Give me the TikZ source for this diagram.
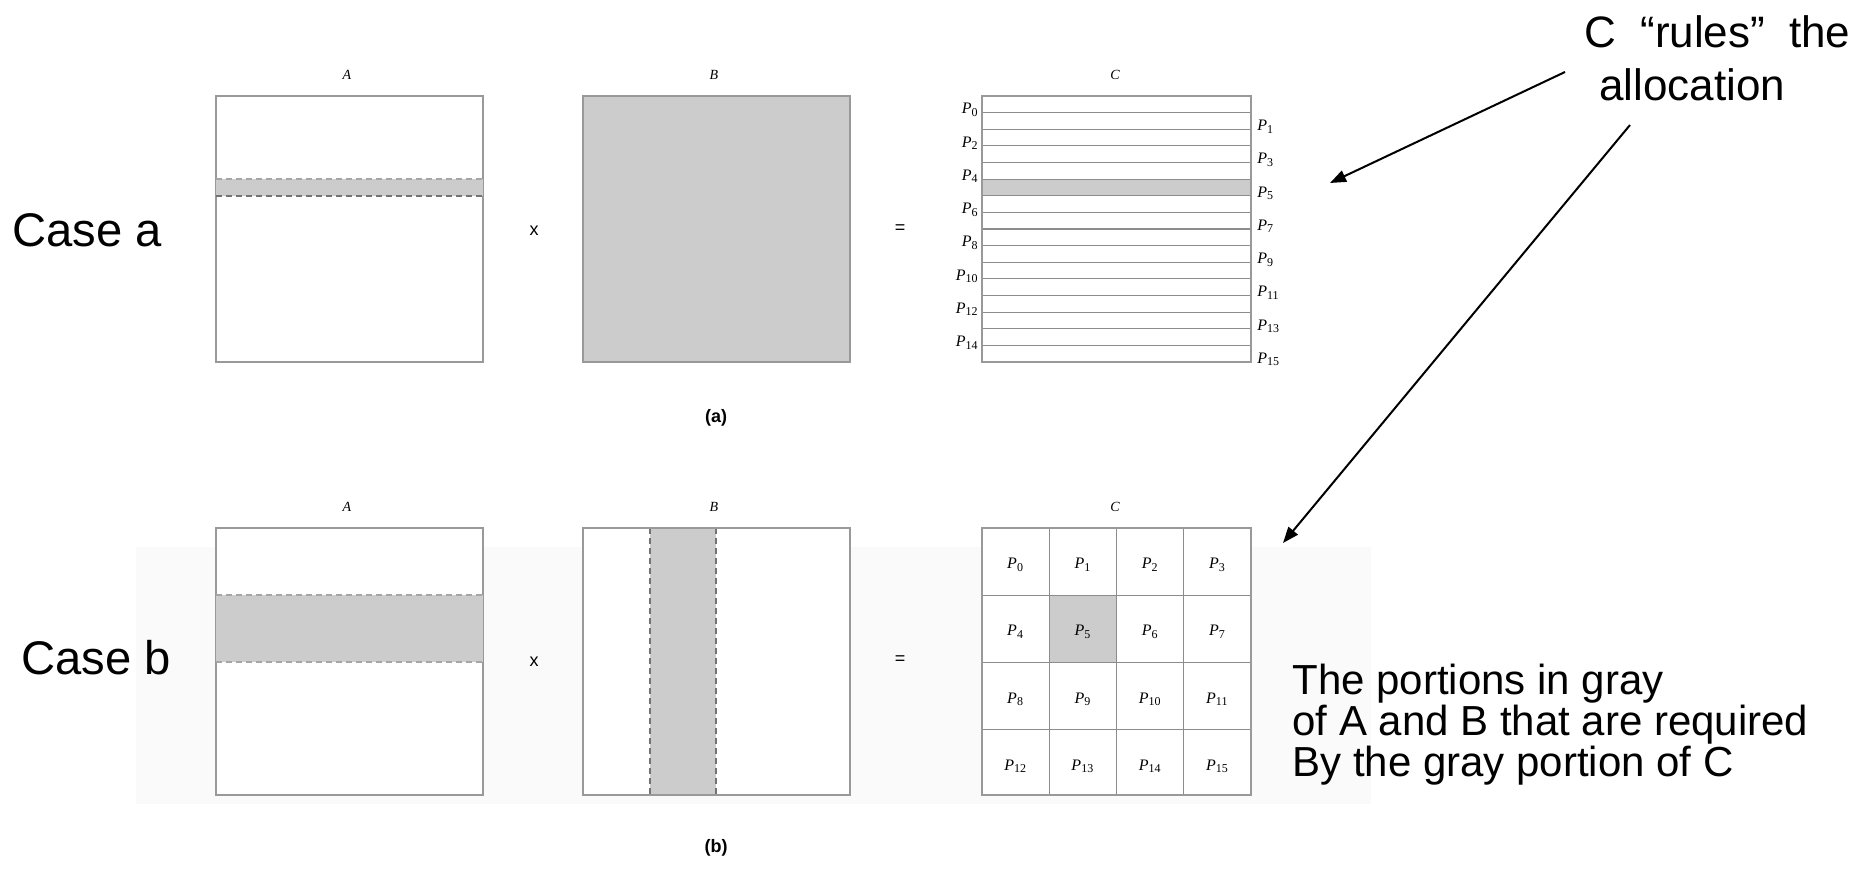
\documentclass[tikz,border=0pt]{standalone}
\usepackage{fontspec}
\usetikzlibrary{arrows.meta}
\newfontfamily\slidefont{Liberation Sans}
\newfontfamily\tms{Liberation Serif}
% processor label: italic P with upright subscript
\newcommand{\Pk}[1]{{\itshape P}\textsubscript{#1}}

\begin{document}
\begin{tikzpicture}[x=0.5pt,y=-0.5pt,
  frame/.style={draw=black!40, line width=0.75pt},
  shaded/.style={fill=black!20},
  cut/.style={draw=black!55, dash pattern=on 3pt off 2pt, line width=0.6pt},
  rowline/.style={draw=black!45, line width=0.6pt},
  plab/.style={font=\tms\fontsize{8}{9}\selectfont, inner sep=0pt},
  mlab/.style={font=\tms\fontsize{7}{8}\selectfont\itshape, inner sep=0pt},
  slide/.style={font=\slidefont\fontsize{22}{20.5}\selectfont, inner sep=0pt},
  op/.style={font=\slidefont\fontsize{9}{10}\selectfont, inner sep=0pt},
  caption/.style={font=\slidefont\bfseries\fontsize{9}{10}\selectfont, inner sep=0pt},
  pointer/.style={draw=black, line width=1pt, -{Triangle[length=8pt,width=6pt]}}
]
\useasboundingbox (0,0) rectangle (1853,870);

% faint backdrop behind the second case
\fill[black!2] (136,547) rectangle (1371,804);

% ---------------- case a ----------------
\node[slide, font=\slidefont\fontsize{23.6}{24}\selectfont, anchor=west] (casea) at (12,230) {Case a};

% A: one block row
\draw[frame, fill=white] (216,96) rectangle (483,362);
\fill[shaded] (216,179) rectangle (483,196);
\draw[cut, draw=black!35] (216,179) -- (483,179);
\draw[cut] (216,196) -- (483,196);
\node[mlab] (Aa) at (347,75) {A};

\node[op] (timesa) at (534,231) {x};

% B: all of it
\draw[frame, shaded] (583,96) rectangle (850,362);
\node[mlab] (Ba) at (714,75) {B};

\node[op] (eqa) at (900,229) {=};

% C: sixteen block rows
\draw[frame, fill=white] (982,96) rectangle (1251,362);
\fill[shaded] (982,{96+16.625*5}) rectangle (1251,{96+16.625*6});
\foreach \k in {1,...,15}
  \draw[rowline] (982,{96+16.625*\k}) -- (1251,{96+16.625*\k});
\draw[frame] (982,96) rectangle (1251,362);
\foreach \k in {0,2,...,14}
  \node[plab, anchor=east] (pa\k) at (979,{96+16.625*\k+14}) {\Pk{\k}};
\foreach \k in {1,3,...,15}
  \node[plab, anchor=west] (pa\k) at (1257,{96+16.625*\k+14}) {\Pk{\k}};
\node[mlab] (Ca) at (1115,75) {C};

\node[caption] (capa) at (716,418) {(a)};

% ---------------- case b ----------------
\node[slide, font=\slidefont\fontsize{23.6}{24}\selectfont, anchor=west] (caseb) at (21,658) {Case b};

% A: one block row of four
\draw[frame, fill=white] (216,528) rectangle (483,795);
\fill[shaded] (216,595) rectangle (483,662);
\draw[cut, draw=black!35] (216,595) -- (483,595);
\draw[cut, draw=black!35] (216,662) -- (483,662);
\node[mlab] (Ab) at (347,507) {A};

\node[op] (timesb) at (534,662) {x};

% B: one block column of four
\draw[frame, fill=white] (583,528) rectangle (850,795);
\fill[shaded] (650,528) rectangle (716,795);
\draw[cut] (650,528) -- (650,795);
\draw[cut] (716,528) -- (716,795);
\draw[frame] (583,528) rectangle (850,795);
\node[mlab] (Bb) at (714,507) {B};

\node[op] (eqb) at (900,660) {=};

% C: 4 x 4 blocks
\draw[frame, fill=white] (982,528) rectangle (1251,795);
\fill[shaded] ({982+67.25},{528+67.25}) rectangle ({982+2*67.25},{528+2*67.25});
\foreach \k in {1,2,3} {
  \draw[rowline] (982,{528+67.25*\k}) -- (1251,{528+67.25*\k});
  \draw[rowline] ({982+67.25*\k},528) -- ({982+67.25*\k},795);
}
\draw[frame] (982,528) rectangle (1251,795);
\foreach \r in {0,...,3}
  \foreach \c in {0,...,3} {
    \pgfmathtruncatemacro{\n}{4*\r+\c}
    \node[plab] (pb\n) at ({982+67.25*(\c+0.5)},{528+67.25*(\r+0.5)+3}) {\Pk{\n}};
  }
\node[mlab] (Cb) at (1115,507) {C};

\node[caption] (capb) at (716,848) {(b)};

% ---------------- annotations ----------------
\node[slide, anchor=west] (rules) at (1584,32) {C\hspace{0.55em}“rules”\hspace{0.55em}the};
\node[slide, anchor=west] (alloc) at (1599,85) {allocation};
\node[slide, font=\slidefont\fontsize{21}{20.5}\selectfont, anchor=north west, align=left] (portions) at (1292,664)
  {The portions in gray\\of A and B that are required\\By the gray portion of C};

\coordinate (fromrows) at (1565,72);
\coordinate (atrows) at (1330,183);
\coordinate (fromgrid) at (1630,125);
\coordinate (atgrid) at (1283,543);
\draw[pointer] (fromrows) -- (atrows);
\draw[pointer] (fromgrid) -- (atgrid);
\end{tikzpicture}
\end{document}
